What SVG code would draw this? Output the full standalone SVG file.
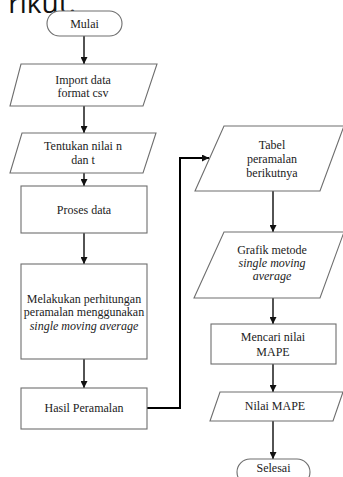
<svg xmlns="http://www.w3.org/2000/svg" width="343" height="477" viewBox="0 0 343 477">
<style>
.bx{fill:#fff;stroke:#6e6e6e;stroke-width:1.1}
.t{font-family:'Liberation Serif','DejaVu Serif',serif;font-size:12px;fill:#222;text-anchor:middle}
.i{font-style:italic}
.c{fill:none;stroke:#1a1a1a;stroke-width:1.5}
.cb{fill:none;stroke:#000;stroke-width:2}
.hd{font-family:'Open Sans','Noto Sans',sans-serif;font-size:28px;fill:#111}
</style>
<defs>
<marker id="ah" viewBox="0 0 10 10" refX="10" refY="5" markerWidth="7" markerHeight="7" markerUnits="userSpaceOnUse" orient="auto">
<path d="M0,0 L10,5 L0,10 z" fill="#111"/>
</marker>
</defs>
<rect width="343" height="477" fill="#fff"/>
<text class="hd" x="76" y="13" text-anchor="end">rikut.</text>

<g id="connectors">
<line class="c" x1="84" y1="36" x2="84" y2="64" marker-end="url(#ah)"/>
<line class="c" x1="84" y1="106" x2="84" y2="133" marker-end="url(#ah)"/>
<line class="c" x1="84" y1="173" x2="84" y2="186" marker-end="url(#ah)"/>
<line class="c" x1="84" y1="233" x2="84" y2="264" marker-end="url(#ah)"/>
<line class="c" x1="84" y1="359" x2="84" y2="388" marker-end="url(#ah)"/>
<polyline class="cb" points="147,408 180,408 180,158 209,158" marker-end="url(#ah)"/>
<line class="c" x1="273" y1="191" x2="273" y2="232" marker-end="url(#ah)"/>
<line class="c" x1="273" y1="298" x2="273" y2="324" marker-end="url(#ah)"/>
<line class="c" x1="273" y1="364" x2="273" y2="392" marker-end="url(#ah)"/>
<line class="c" x1="273" y1="421" x2="273" y2="459" marker-end="url(#ah)"/>
</g>

<g font-family="Liberation Serif, serif">
<g id="mulai">
<rect class="bx" x="47" y="11" width="75" height="25" rx="12.5"/>
<text class="t" x="84.5" y="28">Mulai</text>
</g>
<g id="import">
<polygon class="bx" points="21,64 157,64 143,106 10,106"/>
<text class="t" x="83" y="84">Import data</text>
<text class="t" x="83" y="97">format csv</text>
</g>
<g id="tentukan">
<polygon class="bx" points="22,133 156,133 143,173 10,173"/>
<text class="t" x="83" y="150">Tentukan nilai n</text>
<text class="t" x="83" y="164">dan t</text>
</g>
<g id="proses">
<rect class="bx" x="21" y="186" width="126" height="47"/>
<text class="t" x="84" y="214">Proses data</text>
</g>
<g id="melakukan">
<rect class="bx" x="21" y="264" width="126" height="95"/>
<text class="t" x="84" y="303">Melakukan perhitungan</text>
<text class="t" x="84" y="316">peramalan menggunakan</text>
<text class="t i" x="84" y="330">single moving average</text>
</g>
<g id="hasil">
<rect class="bx" x="21" y="388" width="126" height="41"/>
<text class="t" x="84" y="412">Hasil Peramalan</text>
</g>
<g id="tabel">
<polygon class="bx" points="224,126 344,126 320,191 195,191"/>
<text class="t" x="272" y="149">Tabel</text>
<text class="t" x="272" y="163">peramalan</text>
<text class="t" x="272" y="177">berikutnya</text>
</g>
<g id="grafik">
<polygon class="bx" points="224,232 344,232 320,298 194,298"/>
<text class="t" x="272" y="254">Grafik metode</text>
<text class="t i" x="272" y="267">single moving</text>
<text class="t i" x="272" y="280">average</text>
</g>
<g id="mencari">
<rect class="bx" x="211" y="324" width="125" height="40"/>
<text class="t" x="273" y="341">Mencari nilai</text>
<text class="t" x="273" y="356">MAPE</text>
</g>
<g id="nilai">
<polygon class="bx" points="220,392 343,392 333,421 210,421"/>
<text class="t" x="275" y="410">Nilai MAPE</text>
</g>
<g id="selesai">
<rect class="bx" x="237" y="459" width="73" height="26" rx="13"/>
<text class="t" x="273.5" y="472">Selesai</text>
</g>
</g>
</svg>
